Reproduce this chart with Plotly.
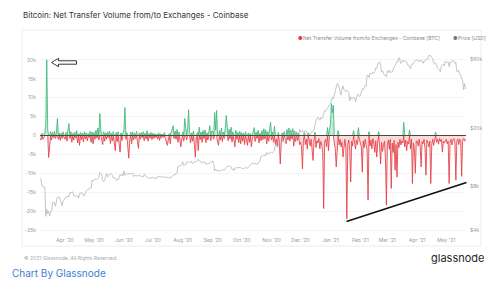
import pandas as pd
import plotly.graph_objects as go

# Net transfer volume (thousand BTC), daily, per month
flow_2020_03 = [-0.8, -1.2, 0.6, -1.0, -0.5, 0.8, 3.0, 20.0, 1.5, -5.8, -1.5, 1.0, -1.2, 0.8, -0.6, 1.2, -0.8, 0.5, 4.5, -1.0, 0.7, -1.3, 0.6, -0.8, 1.0, -0.5]
flow_2020_04 = [-1.0, 0.8, -1.5, 1.2, 3.2, -0.8, 1.0, -1.8, 0.6, -1.2, 0.9, -0.7, 1.3, -2.0, 0.5, -2.6, 0.8, -1.1, 0.6, -1.7, 1.0, -0.9, 0.7, -1.4, 0.5, -0.6, 1.1, -1.8, 0.9, -2.2]
flow_2020_05 = [0.8, -1.0, 1.4, -0.7, 2.0, -1.2, 5.8, 1.5, -1.8, -2.4, 1.0, -1.5, 0.7, -1.0, 0.9, -0.6, 1.2, -2.1, 0.6, -1.4, 1.1, -2.8, -4.0, 0.8, -1.6, 1.0, -2.0, -4.4, 0.7, -1.3, 0.9]
flow_2020_06 = [1.2, 7.4, -1.0, 0.8, -3.0, -6.0, -1.5, 0.9, -2.2, 1.0, -1.2, 0.6, -0.8, 1.1, -1.6, -3.4, 0.7, -1.0, 0.8, -0.6, 1.0, -1.4, 0.6, -0.9, 1.3, -1.5, 0.5, -0.7, 0.8, -1.1]
flow_2020_07 = [0.6, -0.8, 0.5, -0.6, 0.4, -1.0, 0.7, -1.3, 0.5, -0.7, 0.4, -0.5, 0.8, -0.9, -1.8, -2.6, -1.2, 0.5, -2.2, 0.9, 1.5, 2.6, -0.8, 1.2, -1.0, 1.6, -1.8, 0.9, -1.2, -3.0, -0.9]
flow_2020_08 = [1.0, -1.5, 4.5, 0.8, -1.2, 1.8, 6.8, 1.0, -2.0, 0.7, -1.5, 1.2, -2.4, -5.7, -1.0, 0.8, -4.0, 2.2, -1.1, 0.9, -1.8, 1.3, -0.8, 1.5, -1.9, 0.7, -1.2, 1.0, 2.6, -1.4, 1.1]
flow_2020_09 = [1.2, -1.0, 6.1, 1.5, 6.6, -1.8, -2.6, 1.3, -1.2, 2.0, -1.6, 0.9, -0.8, 1.8, 5.3, 1.0, -1.4, 1.6, -0.9, 2.2, -1.7, 1.0, -1.3, -3.0, 1.4, -1.0, 0.8, -1.9, 1.1, -2.2]
flow_2020_10 = [0.8, -1.5, 0.6, -2.4, 1.0, -1.2, -2.6, 0.7, -1.8, 0.5, -3.0, -1.0, 1.2, 2.1, -1.6, 0.9, -0.8, 1.4, -2.0, 0.6, -1.4, 1.3, -1.1, 1.8, -0.9, 1.5, -2.2, 1.0, -1.5, 2.0, 3.5]
flow_2020_11 = [-1.2, 0.9, -1.8, 2.4, -2.5, -1.0, -3.0, 0.8, -1.6, -7.5, -2.0, 0.7, -1.4, 1.0, -0.8, -2.2, 1.6, -1.2, 2.0, -1.5, 1.4, -0.9, 1.8, -2.8, 1.2, -1.6, 0.9, -1.3, 0.6, -2.4]
flow_2020_12 = [-1.8, -3.0, -8.8, -1.2, 0.8, -2.4, -1.0, -3.6, 0.7, -1.5, -2.8, -1.0, -4.0, -6.6, -1.2, 0.9, -3.2, -1.4, -2.0, -0.8, -3.5, -1.6, -2.6, -4.5, -19.3, -2.0, -1.0, -3.0, 2.1, -4.0, 1.5]
flow_2021_01 = [3.0, 8.4, 6.0, 8.0, -2.0, -3.5, -8.3, -1.5, 1.3, -2.5, -1.0, -3.0, -1.8, -5.7, -2.2, -1.0, -3.4, -22.0, -2.5, -1.2, -4.0, -12.3, -1.5, -2.8, 1.3, -2.0, -3.6, -1.2, -2.4, 2.1, -1.5]
flow_2021_02 = [-2.0, -3.0, -9.7, -1.5, -3.2, -1.0, -2.5, -4.0, -17.1, 1.0, -2.8, -1.2, -3.5, -0.8, -2.2, -4.5, -1.4, -5.7, -2.0, 1.0, -3.0, -7.5, -1.8, -4.2, -2.6, -1.5, -6.0, -18.4]
flow_2021_03 = [-2.5, -1.2, -3.6, -1.0, -14.0, -2.0, -4.5, -1.3, -9.2, -2.4, -11.0, -1.8, -3.2, -1.0, -2.5, -1.4, -2.0, 3.5, -3.0, -1.2, -4.0, -1.6, -2.2, 1.5, -3.5, -1.0, -12.7, -2.0, -3.6, -10.0, -1.4]
flow_2021_04 = [-1.5, -2.8, -1.0, -3.0, -8.3, -1.6, -2.2, -1.0, -3.4, -10.5, -1.2, -2.0, -3.0, -1.5, -12.7, -2.4, -1.0, -2.6, -1.3, 0.9, -1.8, -1.0, -2.3, -0.8, -1.6, -1.0, -4.4, -1.5, -2.0, -1.2]
flow_2021_05 = [-1.0, -2.2, -1.5, -12.7, -1.8, -1.0, -2.5, -1.2, -0.8, -2.0, -11.8, -1.5, -0.9, -2.4, -1.0, -1.8, -10.8, -1.2, -0.8, -1.5, -1.0]

# BTC price (USD), daily, per month
price_2020_03 = [9120, 8900, 8030, 7930, 7910, 7910, 4970, 5560, 5200, 5390, 5010, 5330, 5420, 6190, 6200, 6190, 5830, 6420, 6740, 6680, 6730, 6470, 6240, 5880, 6390, 6440]
price_2020_04 = [6600, 6800, 6740, 6860, 6770, 7270, 7180, 7340, 7300, 6860, 6880, 6910, 6860, 6860, 6640, 7120, 7100, 7260, 7190, 6880, 6880, 7120, 7480, 7550, 7570, 7680, 7800, 7770, 8800, 8660]
price_2020_05 = [8860, 8990, 8900, 8880, 9030, 9270, 9950, 9840, 9590, 8760, 8600, 8820, 9320, 9790, 9310, 9380, 9670, 9730, 9780, 9510, 9070, 9170, 9180, 8790, 8910, 8840, 9200, 9580, 9430, 9700, 9450]
price_2020_06 = [10200, 9520, 9660, 9800, 9660, 9750, 9760, 9780, 9770, 9880, 9320, 9480, 9480, 9390, 9430, 9520, 9460, 9390, 9310, 9360, 9290, 9680, 9620, 9290, 9240, 9160, 9010, 9130, 9190, 9140]
price_2020_07 = [9230, 9090, 9060, 9130, 9070, 9340, 9250, 9430, 9230, 9290, 9240, 9300, 9240, 9250, 9200, 9130, 9150, 9170, 9210, 9160, 9390, 9540, 9610, 9550, 9710, 9930, 11030, 10940, 11100, 11110, 11350]
price_2020_08 = [11800, 11070, 11230, 11190, 11750, 11770, 11600, 11750, 11680, 11880, 11410, 11580, 11780, 11770, 11870, 11910, 12280, 11950, 11750, 11870, 11520, 11680, 11650, 11750, 11320, 11460, 11330, 11540, 11480, 11710, 11680]
price_2020_09 = [11970, 11410, 10250, 10510, 10170, 10280, 10370, 10130, 10240, 10360, 10400, 10440, 10330, 10680, 10790, 10960, 10950, 10940, 11090, 10920, 10420, 10540, 10240, 10740, 10690, 10730, 10770, 10710, 10840, 10780]
price_2020_10 = [10620, 10570, 10550, 10670, 10790, 10600, 10670, 10920, 11060, 11300, 11370, 11540, 11430, 11430, 11500, 11330, 11370, 11510, 11750, 11920, 12820, 12970, 12930, 13030, 13070, 13030, 13650, 13270, 13460, 13560, 13800]
price_2020_11 = [13740, 13550, 13950, 14130, 15590, 15590, 14840, 15480, 15330, 15310, 15700, 16280, 16320, 16070, 15960, 16730, 17680, 17800, 17820, 18680, 18710, 18420, 18370, 19150, 18730, 17150, 17140, 17720, 18180, 19700]
price_2020_12 = [18800, 19200, 19450, 18700, 19150, 19360, 19170, 18320, 18550, 18260, 18030, 18800, 19170, 19270, 19440, 21310, 22800, 23140, 23870, 23480, 22740, 23820, 23250, 23720, 24660, 26440, 26250, 27040, 27360, 28840, 29000]
price_2021_01 = [29370, 32130, 32780, 31970, 33990, 36820, 39370, 40800, 40250, 38350, 35570, 33910, 37320, 39180, 36830, 36180, 35790, 36630, 36070, 35550, 30830, 33000, 32080, 32260, 32370, 32570, 30430, 33470, 34320, 34270, 33110]
price_2021_02 = [33540, 35510, 37470, 36930, 38290, 39260, 38900, 46200, 46480, 44840, 47910, 47500, 47110, 48720, 47940, 49130, 52120, 51550, 55900, 55940, 57410, 54200, 48820, 49710, 47090, 46340, 46190, 45140]
price_2021_03 = [49630, 48380, 50540, 48380, 48750, 48880, 50970, 52380, 54880, 55960, 57800, 57330, 61240, 59300, 55900, 56800, 58870, 57650, 58030, 58100, 57350, 54530, 54530, 52300, 51320, 55030, 55840, 55780, 57630, 58730, 58920]
price_2021_04 = [59100, 59000, 57090, 58200, 59120, 57960, 56040, 58100, 58200, 59770, 59990, 59860, 63500, 62970, 63110, 61530, 60100, 56250, 55720, 56470, 53910, 51760, 51090, 50050, 49000, 54020, 55030, 54820, 53560, 57750]
price_2021_05 = [57830, 56630, 57210, 53240, 57470, 56430, 57380, 58900, 58280, 55860, 56750, 49150, 49720, 49880, 46760, 46430, 43540, 42910, 36830, 40600, 37300]

flow_months = [flow_2020_03, flow_2020_04, flow_2020_05, flow_2020_06, flow_2020_07, flow_2020_08,
               flow_2020_09, flow_2020_10, flow_2020_11, flow_2020_12, flow_2021_01, flow_2021_02,
               flow_2021_03, flow_2021_04, flow_2021_05]
price_months = [price_2020_03, price_2020_04, price_2020_05, price_2020_06, price_2020_07, price_2020_08,
                price_2020_09, price_2020_10, price_2020_11, price_2020_12, price_2021_01, price_2021_02,
                price_2021_03, price_2021_04, price_2021_05]

flows_k = [v for m in flow_months for v in m]
prices = [v for m in price_months for v in m]
dates = pd.date_range("2020-03-06", "2021-05-21", freq="D")
assert len(flows_k) == len(dates), (len(flows_k), len(dates))
assert len(prices) == len(dates), (len(prices), len(dates))

flows = [v * 1000 for v in flows_k]
pos = [max(v, 0) for v in flows]
neg = [min(v, 0) for v in flows]

left_ticks = [-25000, -20000, -15000, -10000, -5000, 0, 5000, 10000, 15000, 20000]
left_text = ["-25k", "-20k", "-15k", "-10k", "-5k", "0", "5k", "10k", "15k", "20k"]
right_ticks = [4000, 8000, 20000, 60000]
right_text = ["$4k", "$8k", "$20k", "$60k"]

W, H = 500, 281
L, R, T, B = 40, 34, 50, 46
PW, PH = W - L - R, H - T - B

def pxx(px):
    return (px - L) / PW

def pxy(py):
    return (H - B - py) / PH

GREEN = "#33b574"
RED = "#e3353c"
GREY_TXT = "#9a9a9a"

fig = go.Figure()
fig.add_trace(go.Scatter(x=dates, y=prices, yaxis="y2", mode="lines",
                         line=dict(color="#b8b8b8", width=0.8), showlegend=False, hoverinfo="skip"))
fig.add_trace(go.Scatter(x=dates, y=neg, mode="lines", fill="tozeroy",
                         fillcolor="rgba(227,53,60,0.18)", line=dict(color=RED, width=0.8),
                         showlegend=False))
fig.add_trace(go.Scatter(x=dates, y=pos, mode="lines", fill="tozeroy",
                         fillcolor="rgba(51,181,116,0.28)", line=dict(color=GREEN, width=0.8),
                         showlegend=False))

shapes = []
# card border
shapes.append(dict(type="rect", xref="paper", yref="paper", x0=pxx(22), x1=pxx(481), y0=pxy(246), y1=pxy(30),
                   line=dict(color="#ececec", width=1), fillcolor="rgba(0,0,0,0)", layer="below"))
# zero line
shapes.append(dict(type="line", xref="paper", yref="y", x0=0, x1=1, y0=0, y1=0,
                   line=dict(color="#4a4a3a", width=1), layer="above"))
# trend line annotation
shapes.append(dict(type="line", xref="paper", yref="paper", x0=pxx(346.5), y0=pxy(221.5), x1=pxx(466.5), y1=pxy(182.5),
                   line=dict(color="#111111", width=1.6)))
# hollow arrow pointing at the spike
pts = [(51.5, 62.5), (58.5, 58.3), (58.5, 60.8), (76.5, 60.8), (76.5, 64.2), (58.5, 64.2), (58.5, 66.7)]
path = "M " + " L ".join(f"{pxx(a):.5f},{pxy(b):.5f}" for a, b in pts) + " Z"
shapes.append(dict(type="path", xref="paper", yref="paper", path=path,
                   line=dict(color="#222222", width=0.9), fillcolor="white"))

ann = []
def text(px, py, s, size, color, xanchor="left", yanchor="middle", family="Inter, Open Sans, sans-serif"):
    ann.append(dict(x=pxx(px), y=pxy(py), xref="paper", yref="paper", text=s, showarrow=False,
                    xanchor=xanchor, yanchor=yanchor, font=dict(size=size, color=color, family=family)))

text(21, 15, "Bitcoin: Net Transfer Volume from/to Exchanges - Coinbase", 8, "#333333")
text(296, 38.5, "●", 5, RED)
text(301, 38.5, "Net Transfer Volume from/to Exchanges - Coinbase [BTC]", 5, "#8a8a8a")
text(451, 38.5, "●", 5, "#777777")
text(456, 38.5, "Price [USD]", 5, "#8a8a8a")
text(22, 258, "© 2021 Glassnode. All Rights Reserved.", 5, "#aaaaaa")
text(486, 258, "glassnode", 11, "#262626", xanchor="right")
text(10, 281, "Chart By Glassnode", 10, "#3f7fcf", yanchor="bottom")

fig.update_layout(
    width=W, height=H, margin=dict(l=L, r=R, t=T, b=B),
    paper_bgcolor="white", plot_bgcolor="white",
    shapes=shapes, annotations=ann, showlegend=False,
    xaxis=dict(type="date", range=["2020-03-06", "2021-05-21 12:00"], tick0="2020-04-01", dtick="M1",
               tickformat="%b '%y", showgrid=False, zeroline=False, showline=False, ticks="",
               tickfont=dict(size=5, color=GREY_TXT, family="Inter, sans-serif"), ticklabelstandoff=1),
    yaxis=dict(range=[-26300, 22600], tickvals=left_ticks, ticktext=left_text, showgrid=True,
               gridcolor="#f4f4f4", gridwidth=0.5, zeroline=False, showline=False, ticks="",
               tickfont=dict(size=5, color=GREY_TXT, family="Inter, sans-serif"), ticklabelstandoff=3),
    yaxis2=dict(type="log", overlaying="y", side="right", range=[3.568, 4.840], tickvals=right_ticks,
                ticktext=right_text, showgrid=False, zeroline=False, showline=False, ticks="",
                tickfont=dict(size=5, color=GREY_TXT, family="Inter, sans-serif"), ticklabelstandoff=3),
)

fig.write_html("out.html")
